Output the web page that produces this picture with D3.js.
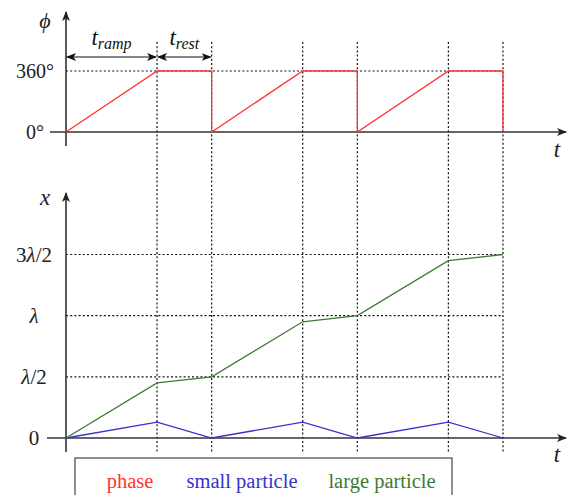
<!DOCTYPE html>
<html>
<head>
<meta charset="utf-8">
<script src="https://cdn.jsdelivr.net/npm/d3@7"></script>
<style>
  body { margin: 0; background: #fff; }
</style>
</head>
<body>
<div id="chart"></div>
<script>
// time breakpoints (t_ramp = 1, t_rest = 0.6)
const tMarks = [0, 1, 1.6, 2.6, 3.2, 4.2, 4.8]

// phase (degrees), with the instant drop back to 0 at the end of each rest
const phaseT = [0, 1, 1.6, 1.6, 2.6, 3.2, 3.2, 4.2, 4.8, 4.8]
const phaseV = [0, 360, 360, 0, 360, 360, 0, 360, 360, 0]

// particle positions in units of lambda
const smallX = [0, 0.13, 0, 0.13, 0, 0.13, 0]
const largeX = [0, 0.45, 0.5, 0.95, 1.0, 1.45, 1.5]

const phaseTicks = [0, 360]
const phaseLabels = ['0°', '360°']
const xTicks = [0, 0.5, 1, 1.5]
const xLabels = ['0', 'λ/2', 'λ', '3λ/2']

const legendNames = ['phase', 'small particle', 'large particle']
const legendColors = ['#ff3333', '#3333cc', '#3d7a33']

const width = 568
const height = 495

const svg = d3.select('#chart').append('svg')
  .attr('width', width)
  .attr('height', height)

// arrow head like TikZ latex tip
const defs = svg.append('defs')
const marker = (id, color) => defs.append('marker')
  .attr('id', id)
  .attr('viewBox', '0 0 10 10')
  .attr('refX', 9).attr('refY', 5)
  .attr('markerWidth', 10).attr('markerHeight', 10)
  .attr('markerUnits', 'userSpaceOnUse')
  .attr('orient', 'auto-start-reverse')
  .append('path')
  .attr('d', 'M0,1 L10,5 L0,9 L2.5,5 Z')
  .attr('fill', color)
marker('axisArrow', '#222')
marker('dimArrow', '#111')

const x = d3.scaleLinear().domain([0, 4.8]).range([66, 503])
const yPhase = d3.scaleLinear().domain([0, 360]).range([132, 71])
const yPos = d3.scaleLinear().domain([0, 1.5]).range([438, 254.5])

const dotted = '2,2.2'

// vertical dotted guides
svg.append('g').selectAll('line')
  .data(tMarks.slice(1))
  .join('line')
  .attr('x1', d => x(d)).attr('x2', d => x(d))
  .attr('y1', 42).attr('y2', 453)
  .attr('stroke', '#111')
  .attr('stroke-width', 1.2)
  .attr('stroke-dasharray', dotted)

// horizontal dashed guides
svg.append('line')
  .attr('x1', x(0)).attr('x2', x(4.8))
  .attr('y1', yPhase(360)).attr('y2', yPhase(360))
  .attr('stroke', '#111').attr('stroke-width', 1.2)
  .attr('stroke-dasharray', dotted)

svg.append('g').selectAll('line')
  .data(xTicks.slice(1))
  .join('line')
  .attr('x1', x(0)).attr('x2', x(4.8))
  .attr('y1', d => yPos(d)).attr('y2', d => yPos(d))
  .attr('stroke', '#111').attr('stroke-width', 1.2)
  .attr('stroke-dasharray', dotted)

// axes
const axis = (x1, y1, x2, y2) => svg.append('line')
  .attr('x1', x1).attr('y1', y1).attr('x2', x2).attr('y2', y2)
  .attr('stroke', '#333').attr('stroke-width', 1.6)
  .attr('marker-end', 'url(#axisArrow)')

axis(50, yPhase(0), 566, yPhase(0))
axis(x(0), 146, x(0), 12)
axis(47, yPos(0), 566, yPos(0))
axis(x(0), 452, x(0), 193)

// tick labels, centred left of the axis as in the TikZ original
svg.append('g').selectAll('text')
  .data(phaseTicks)
  .join('text')
  .attr('x', 35)
  .attr('y', d => yPhase(d))
  .attr('dy', '0.35em')
  .attr('text-anchor', 'middle')
  .attr('font-size', 20)
  .attr('fill', '#222')
  .text((d, i) => phaseLabels[i])

svg.append('g').selectAll('text')
  .data(xTicks)
  .join('text')
  .attr('x', 34)
  .attr('y', d => yPos(d))
  .attr('dy', '0.35em')
  .attr('text-anchor', 'middle')
  .attr('font-size', 21)
  .attr('fill', '#222')
  .each(function (d, i) {
    const t = d3.select(this)
    const s = xLabels[i]
    // italic lambda, upright digits
    s.split(/(λ)/).filter(p => p).forEach(p => {
      t.append('tspan').attr('font-style', p === 'λ' ? 'italic' : 'normal').text(p)
    })
  })

// axis names
const mathLabel = (tx, ty, s, size) => svg.append('text')
  .attr('x', tx).attr('y', ty)
  .attr('text-anchor', 'middle')
  .attr('font-size', size)
  .attr('font-style', 'italic')
  .attr('fill', '#222')
  .text(s)

mathLabel(45, 28, 'ϕ', 22)
mathLabel(557, 157, 't', 23)
mathLabel(45, 205, 'x', 23)
mathLabel(557, 462, 't', 23)

// t_ramp / t_rest dimension arrows
const dim = [[0, 1, 'ramp'], [1, 1.6, 'rest']]
dim.forEach(([a, b, sub]) => {
  svg.append('line')
    .attr('x1', x(a) + 1).attr('x2', x(b) - 1)
    .attr('y1', 57).attr('y2', 57)
    .attr('stroke', '#111').attr('stroke-width', 1.2)
    .attr('marker-start', 'url(#dimArrow)')
    .attr('marker-end', 'url(#dimArrow)')
  const lbl = svg.append('text')
    .attr('x', (x(a) + x(b)) / 2)
    .attr('y', 45)
    .attr('text-anchor', 'middle')
    .attr('font-style', 'italic')
    .attr('fill', '#111')
  lbl.append('tspan').attr('font-size', 23).text('t')
  lbl.append('tspan').attr('font-size', 16).attr('dy', 4).text(sub)
})

// phase line
const phaseLine = d3.line()
  .x((d, i) => x(phaseT[i]))
  .y(d => yPhase(d))
svg.append('path')
  .datum(phaseV)
  .attr('d', phaseLine)
  .attr('fill', 'none')
  .attr('stroke', legendColors[0])
  .attr('stroke-width', 1.3)

// particle lines
const posLine = d3.line()
  .x((d, i) => x(tMarks[i]))
  .y(d => yPos(d))
svg.append('path')
  .datum(smallX)
  .attr('d', posLine)
  .attr('fill', 'none')
  .attr('stroke', legendColors[1])
  .attr('stroke-width', 1.3)
svg.append('path')
  .datum(largeX)
  .attr('d', posLine)
  .attr('fill', 'none')
  .attr('stroke', legendColors[2])
  .attr('stroke-width', 1.3)

// legend box
svg.append('rect')
  .attr('x', 75).attr('y', 458)
  .attr('width', 377).attr('height', 50)
  .attr('fill', 'none')
  .attr('stroke', '#444')
  .attr('stroke-width', 1.2)

const legendX = [130, 242, 382]
svg.append('g').selectAll('text')
  .data(legendNames)
  .join('text')
  .attr('x', (d, i) => legendX[i])
  .attr('y', 488)
  .attr('text-anchor', 'middle')
  .attr('font-size', 20.5)
  .attr('fill', (d, i) => legendColors[i])
  .text(d => d)

// serif everywhere, like the LaTeX original
svg.selectAll('text').style('font-family', '"Liberation Serif"')
</script>
</body>
</html>
